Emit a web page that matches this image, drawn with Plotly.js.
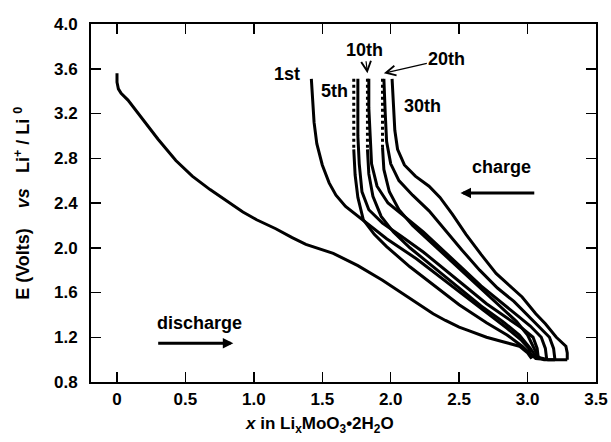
<!DOCTYPE html>
<html>
<head>
<meta charset="utf-8">
<script src="https://cdn.plot.ly/plotly-3.0.1.min.js"></script>
<style>html,body{margin:0;padding:0;background:#fff}#chart{width:611px;height:442px}</style>
</head>
<body>
<div id="chart"></div>
<script>
// ---- tick labels ----
const xTickVals = [0, 0.5, 1.0, 1.5, 2.0, 2.5, 3.0, 3.5];
const xTickText = ['0', '0.5', '1.0', '1.5', '2.0', '2.5', '3.0', '3.5'];
const yTickVals = [0.8, 1.2, 1.6, 2.0, 2.4, 2.8, 3.2, 3.6, 4.0];
const yTickText = ['0.8', '1.2', '1.6', '2.0', '2.4', '2.8', '3.2', '3.6', '4.0'];

// ---- 1st discharge ----
const dis1_x = [0.00,0.00,0.01,0.03,0.08,0.19,0.30,0.43,0.55,0.68,0.80,0.92,1.02,1.16,1.28,1.38,1.58,1.76,1.94,2.10,2.21,2.31,2.40,2.50,2.57,2.70,2.82,2.94,3.00,3.03];
const dis1_v = [3.56,3.48,3.42,3.38,3.32,3.14,2.97,2.78,2.64,2.52,2.42,2.32,2.25,2.17,2.09,2.03,1.95,1.84,1.71,1.58,1.49,1.41,1.35,1.29,1.26,1.20,1.16,1.12,1.06,1.01];

// ---- 1st charge ----
const chg1_x = [3.03,3.01,2.95,2.85,2.70,2.55,2.40,2.19,1.97,1.80,1.67,1.60,1.55,1.50,1.46,1.44,1.43,1.42];
const chg1_v = [1.01,1.10,1.18,1.28,1.42,1.56,1.70,1.90,2.08,2.24,2.37,2.47,2.58,2.74,2.93,3.12,3.32,3.51];

// ---- later charges ----
const chg5_x  = [3.08,3.07,3.04,2.96,2.84,2.70,2.56,2.40,2.24,2.08,1.94,1.84,1.79,1.77,1.76,1.76,1.76];
const chg5_v  = [1.00,1.10,1.20,1.28,1.38,1.50,1.64,1.80,1.96,2.10,2.22,2.34,2.50,2.75,3.00,3.25,3.51];
const chg10_x = [3.14,3.13,3.10,3.02,2.92,2.80,2.66,2.52,2.38,2.24,2.10,1.98,1.90,1.86,1.85,1.84,1.84];
const chg10_v = [1.00,1.10,1.20,1.30,1.40,1.52,1.66,1.82,1.98,2.14,2.28,2.40,2.55,2.75,3.00,3.25,3.51];
const chg20_x = [3.20,3.19,3.16,3.08,3.00,2.90,2.78,2.65,2.52,2.40,2.28,2.16,2.06,2.00,1.97,1.96,1.95];
const chg20_v = [1.00,1.10,1.20,1.30,1.40,1.52,1.64,1.80,1.98,2.16,2.33,2.47,2.60,2.75,2.95,3.20,3.51];
const chg30_x = [3.29,3.29,3.28,3.21,3.13,3.06,2.96,2.86,2.77,2.66,2.55,2.45,2.36,2.28,2.18,2.10,2.05,2.03,2.02,2.01];
const chg30_v = [1.00,1.06,1.12,1.20,1.32,1.41,1.56,1.67,1.77,1.94,2.12,2.30,2.45,2.55,2.64,2.74,2.88,3.05,3.25,3.51];

// ---- later discharges (first 4 points drawn dotted) ----
const dis6_x  = [1.73,1.73,1.73,1.73,1.74,1.76,1.80,1.88,1.97,2.14,2.30,2.50,2.70,2.85,2.96,3.02,3.06,3.14];
const dis6_v  = [3.51,3.30,3.10,2.88,2.65,2.45,2.25,2.12,2.01,1.83,1.68,1.49,1.33,1.22,1.12,1.05,1.01,1.00];
const dis11_x = [1.83,1.83,1.83,1.83,1.84,1.87,1.93,2.02,2.14,2.30,2.48,2.66,2.82,2.94,3.02,3.06,3.12,3.20];
const dis11_v = [3.51,3.30,3.10,2.88,2.66,2.46,2.28,2.14,2.00,1.84,1.66,1.48,1.34,1.22,1.10,1.03,1.00,1.00];
const dis21_x = [1.94,1.94,1.94,1.94,1.95,1.99,2.06,2.16,2.30,2.46,2.62,2.78,2.92,3.00,3.05,3.08,3.15,3.29];
const dis21_v = [3.51,3.30,3.10,2.90,2.70,2.50,2.34,2.20,2.04,1.86,1.68,1.50,1.34,1.22,1.10,1.02,1.00,1.00];

const solidCurves = [
  [dis1_x, dis1_v], [chg1_x, chg1_v],
  [chg5_x, chg5_v], [chg10_x, chg10_v], [chg20_x, chg20_v], [chg30_x, chg30_v]
];
const dottedStartCurves = [[dis6_x, dis6_v], [dis11_x, dis11_v], [dis21_x, dis21_v]];
const DOT_N = 4;

const traces = [];
const LW = 3;
solidCurves.forEach(c => traces.push({x: c[0], y: c[1], mode: 'lines', line: {color: '#000', width: LW}, hoverinfo: 'skip'}));
dottedStartCurves.forEach(c => {
  traces.push({x: c[0].slice(0, DOT_N), y: c[1].slice(0, DOT_N), mode: 'lines', line: {color: '#000', width: LW, dash: 'dot'}, hoverinfo: 'skip'});
  traces.push({x: c[0].slice(DOT_N - 1), y: c[1].slice(DOT_N - 1), mode: 'lines', line: {color: '#000', width: LW}, hoverinfo: 'skip'});
});

const FONT = 'Liberation Sans, Arial, sans-serif';
const tickFont = {family: FONT, size: 17, color: '#000', weight: 'bold'};
const lblFont = {family: FONT, size: 18, color: '#000', weight: 'bold'};

function lbl(text, x, y) {
  return {text: text, x: x, y: y, xref: 'x', yref: 'y', showarrow: false, font: lblFont, xanchor: 'center', yanchor: 'middle'};
}

const layout = {
  width: 611, height: 442,
  margin: {l: 91, r: 15, t: 24, b: 60},
  paper_bgcolor: '#fff', plot_bgcolor: '#fff',
  showlegend: false,
  xaxis: {
    range: [-0.19, 3.5], tickmode: 'array', tickvals: xTickVals, ticktext: xTickText,
    ticks: 'inside', ticklen: 10, tickwidth: 1.5, tickcolor: '#000',
    showline: true, linewidth: 2, linecolor: '#000', mirror: 'ticks',
    showgrid: false, zeroline: false, tickfont: tickFont, ticklabelstandoff: 1
  },
  yaxis: {
    range: [0.8, 4.0], tickmode: 'array', tickvals: yTickVals, ticktext: yTickText,
    ticks: 'inside', ticklen: 10, tickwidth: 1.5, tickcolor: '#000',
    showline: true, linewidth: 2, linecolor: '#000', mirror: 'ticks',
    showgrid: false, zeroline: false, tickfont: tickFont, ticklabelstandoff: 8
  },
  annotations: [
    lbl('1st', 1.24, 3.55),
    lbl('5th', 1.59, 3.40),
    lbl('30th', 2.23, 3.27),
    lbl('charge', 2.81, 2.72),
    lbl('discharge', 0.60, 1.33),
    // labelled arrows (text sits at the tail)
    {text: '10th', x: 1.83, y: 3.56, ax: 1.81, ay: 3.77, xref: 'x', yref: 'y', axref: 'x', ayref: 'y', showarrow: true, arrowhead: 5, arrowsize: 1.6, arrowwidth: 1.2, arrowcolor: '#000', font: lblFont},
    {text: '20th', x: 1.95, y: 3.56, ax: 2.41, ay: 3.69, xref: 'x', yref: 'y', axref: 'x', ayref: 'y', showarrow: true, arrowhead: 5, arrowsize: 1.6, arrowwidth: 1.2, arrowcolor: '#000', font: lblFont},
    // direction arrows
    {x: 2.51, y: 2.49, ax: 3.06, ay: 2.49, xref: 'x', yref: 'y', axref: 'x', ayref: 'y', text: '', showarrow: true, arrowhead: 2, arrowsize: 0.7, arrowwidth: 3, arrowcolor: '#000'},
    {x: 0.85, y: 1.146, ax: 0.29, ay: 1.146, xref: 'x', yref: 'y', axref: 'x', ayref: 'y', text: '', showarrow: true, arrowhead: 2, arrowsize: 0.7, arrowwidth: 3, arrowcolor: '#000'},
    // axis titles
    {text: '<i>x</i> in Li<sub>x</sub>MoO<sub>3</sub>\u20222H<sub>2</sub>O', xref: 'paper', yref: 'paper', x: 0.30, y: -0.12, xanchor: 'left', yanchor: 'middle', showarrow: false, font: {family: FONT, size: 17, color: '#000', weight: 'bold'}},
    {text: 'E (Volts)\u00a0\u00a0\u00a0 <i>vs</i> \u00a0\u00a0Li<sup>+</sup> / Li <sup>0</sup>', xref: 'paper', yref: 'paper', x: -0.137, y: 0.5, xanchor: 'center', yanchor: 'middle', textangle: -90, showarrow: false, font: {family: FONT, size: 18, color: '#000', weight: 'bold'}}
  ]
};

Plotly.newPlot('chart', traces, layout, {staticPlot: true, displayModeBar: false});
</script>
</body>
</html>
